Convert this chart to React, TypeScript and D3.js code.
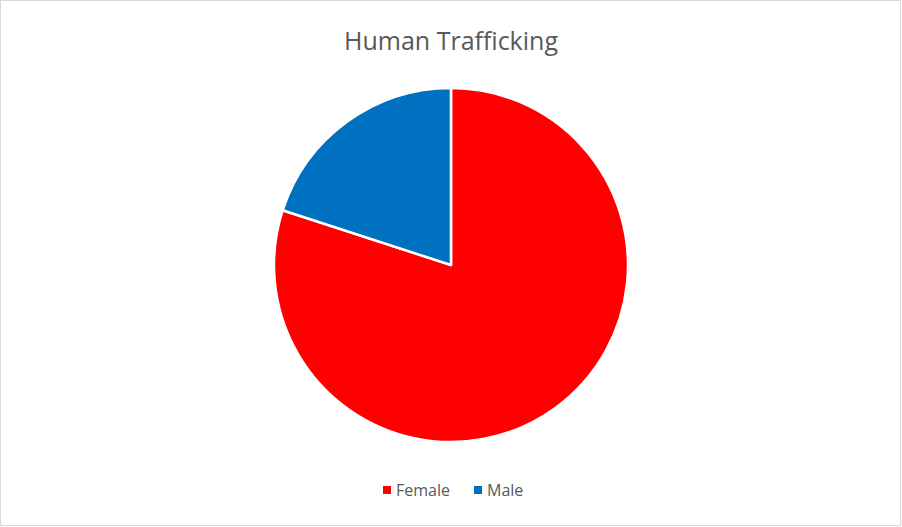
import * as d3 from 'd3';

const categories = ['Female', 'Male'];
const values = [80, 20];
const colors = ['#FF0000', '#0070C0'];
const title = 'Human Trafficking';

const W = 902;
const H = 527;

export default function App() {
  const cx = 451;
  const cy = 265;
  const r = 177;

  // Male slice ends at 12 o'clock, Female goes clockwise from there
  const pie = d3.pie<number>().sort(null).value((d) => d);
  const arcs = pie(values);
  const arc = d3.arc<d3.PieArcDatum<number>>().innerRadius(0).outerRadius(r);

  const legendX = [383, 474];

  return (
    <svg
      width={W}
      height={H}
      style={{ position: 'absolute', left: 0, top: 0, fontFamily: 'Open Sans, sans-serif' }}
    >
      <rect x={0.5} y={0.5} width={W - 2} height={H - 2} fill="#fff" stroke="#d9d9d9" />
      <text x={451} y={50} textAnchor="middle" fontSize={25} fill="#595959">
        {title}
      </text>
      <g transform={`translate(${cx},${cy})`}>
        {arcs.map((a, i) => (
          <path key={categories[i]} d={arc(a) || ''} fill={colors[i]} stroke="#fff" strokeWidth={2.5} strokeLinejoin="round" />
        ))}
      </g>
      {categories.map((c, i) => (
        <g key={c} transform={`translate(${legendX[i]},486)`}>
          <rect width={8} height={8} fill={colors[i]} />
          <text x={13} y={10} fontSize={16} fill="#595959">
            {c}
          </text>
        </g>
      ))}
    </svg>
  );
}
